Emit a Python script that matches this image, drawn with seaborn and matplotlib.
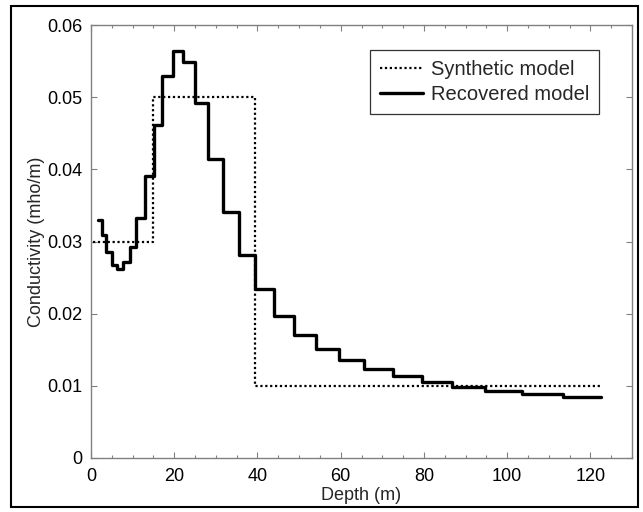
import numpy as np
import pandas as pd
import matplotlib
matplotlib.use("Agg")
import matplotlib.pyplot as plt
import seaborn as sns
from matplotlib.patches import Rectangle
from matplotlib.ticker import MultipleLocator

# Recovered model: layer boundaries (depth, m) and conductivities
rec_depth = [1.6, 2.75, 3.5, 4.95, 6.25, 7.7, 9.3, 10.7, 12.9, 15.1, 17.1, 19.7,
             22.2, 25.1, 28.2, 31.8, 35.5, 39.4, 44.0, 48.7, 54.0, 59.5, 65.5,
             72.5, 79.5, 86.7, 94.7, 103.5, 113.4, 122.5]
rec_cond = [0.0330, 0.0309, 0.0286, 0.0267, 0.0262, 0.0271, 0.0292, 0.0333,
            0.0391, 0.0462, 0.0529, 0.0564, 0.0549, 0.0492, 0.0415, 0.0341,
            0.0281, 0.0234, 0.0197, 0.0171, 0.0151, 0.0136, 0.0123, 0.0113,
            0.0105, 0.0099, 0.0093, 0.0088, 0.0084]

# Synthetic model
syn_depth = [0.5, 15.0, 39.5, 122.5]
syn_cond = [0.03, 0.05, 0.01]

x_ticks = [0, 20, 40, 60, 80, 100, 120]
y_ticks = [0, 0.01, 0.02, 0.03, 0.04, 0.05, 0.06]
y_ticklabels = ["0", "0.01", "0.02", "0.03", "0.04", "0.05", "0.06"]

sns.set_style("ticks")
plt.rcParams["font.family"] = ["Liberation Sans", "DejaVu Sans"]

df_syn = pd.DataFrame({"depth": syn_depth, "cond": syn_cond + [syn_cond[-1]],
                       "model": "Synthetic model"})
df_rec = pd.DataFrame({"depth": rec_depth, "cond": rec_cond + [rec_cond[-1]],
                       "model": "Recovered model"})

fig = plt.figure(figsize=(6.43, 5.12), dpi=100)
ax = fig.add_axes([91 / 643, 1 - 458 / 512, (632 - 91) / 643, (458 - 25) / 512])

sns.lineplot(data=df_syn, x="depth", y="cond", ax=ax, color="black",
             linestyle=(0, (1, 1.2)), linewidth=1.6, drawstyle="steps-post",
             label="Synthetic model", estimator=None, sort=False)
sns.lineplot(data=df_rec, x="depth", y="cond", ax=ax, color="black",
             linewidth=2.4, drawstyle="steps-post",
             label="Recovered model", estimator=None, sort=False)

ax.set_xlim(0, 130)
ax.set_ylim(0, 0.06)
ax.set_xticks(x_ticks)
ax.set_yticks(y_ticks)
ax.set_yticklabels(y_ticklabels)
ax.xaxis.set_minor_locator(MultipleLocator(5))
ax.tick_params(which="both", direction="in", top=True, right=True,
               color="#808080", labelsize=13, labelcolor="black")
ax.tick_params(axis="x", pad=7)
ax.tick_params(axis="y", pad=6)
ax.tick_params(which="major", length=4, width=0.8)
ax.tick_params(which="minor", length=2.5, width=0.8)
for s in ax.spines.values():
    s.set_color("#808080")
    s.set_linewidth(1.0)

ax.set_xlabel("Depth (m)", fontsize=13, labelpad=2)
ax.set_ylabel("Conductivity (mho/m)", fontsize=13, labelpad=2)

leg = ax.legend(loc="upper right", bbox_to_anchor=(0.958, 0.965), fontsize=14.5,
                frameon=True, fancybox=False, edgecolor="black",
                handlelength=2.1, borderpad=0.5, labelspacing=0.3,
                handletextpad=0.4)
leg.get_frame().set_linewidth(0.9)

fig.patches.append(Rectangle((11 / 643, 1 - 507 / 512), (638 - 11) / 643,
                             (507 - 6) / 512, transform=fig.transFigure,
                             fill=False, edgecolor="black", linewidth=1.5))

fig.savefig("out.png", dpi=100)
